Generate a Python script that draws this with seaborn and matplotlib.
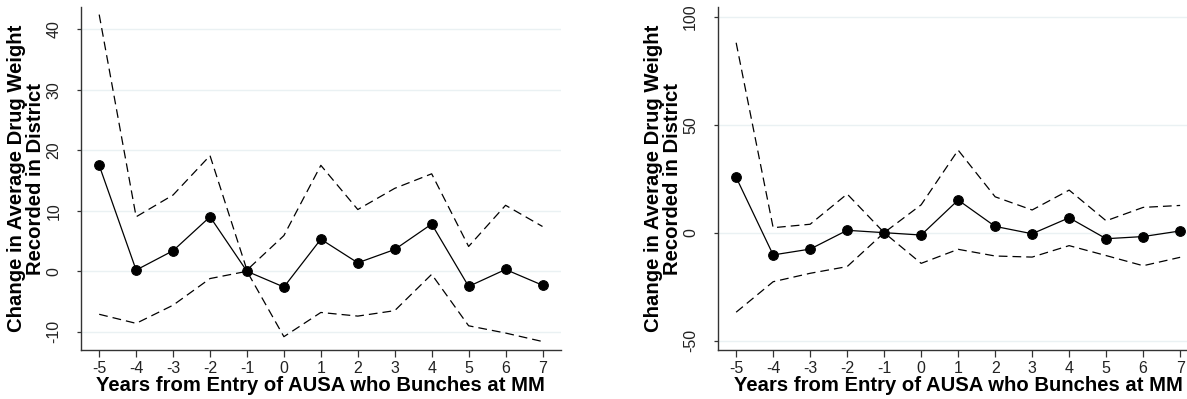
import matplotlib
matplotlib.use("Agg")
import matplotlib.pyplot as plt
import seaborn as sns
import pandas as pd

years = [-5, -4, -3, -2, -1, 0, 1, 2, 3, 4, 5, 6, 7]

# Panel A: point estimates and 95% confidence bounds
est_a = [17.5, 0.2, 3.4, 9.0, 0.0, -2.6, 5.3, 1.4, 3.6, 7.8, -2.5, 0.3, -2.3]
upper_a = [42.4, 9.0, 12.6, 19.1, 0.2, 5.9, 17.5, 10.2, 13.7, 16.1, 4.1, 10.9, 7.4]
lower_a = [-7.1, -8.6, -5.6, -1.2, 0.0, -10.8, -6.8, -7.4, -6.5, -0.5, -9.0, -10.2, -11.6]
yticks_a = [-10, 0, 10, 20, 30, 40]

# Panel B: point estimates and 95% confidence bounds
est_b = [25.6, -10.3, -7.6, 1.1, 0.0, -1.1, 15.1, 2.9, -0.5, 6.9, -2.8, -1.8, 0.8]
upper_b = [87.9, 2.3, 3.9, 17.9, 0.0, 12.9, 38.2, 16.6, 10.5, 19.7, 5.5, 11.7, 12.6]
lower_b = [-36.8, -22.7, -18.8, -15.7, 0.0, -14.2, -7.7, -10.8, -11.3, -6.0, -10.6, -15.3, -11.4]
yticks_b = [-50, 0, 50, 100]

xlabel = "Years from Entry of AUSA who Bunches at MM"
ylabel = "Change in Average Drug Weight\nRecorded in District"

sns.set_theme(style="white")
plt.rcParams["font.family"] = ["Liberation Sans", "DejaVu Sans"]
plt.rcParams["text.color"] = "black"
plt.rcParams["axes.labelcolor"] = "black"
plt.rcParams["xtick.color"] = "#222222"
plt.rcParams["ytick.color"] = "#222222"

fig = plt.figure(figsize=(11.87, 3.99), dpi=100)
ax_a = fig.add_axes([0.068, 0.1228, 0.4046, 0.8589])
ax_b = fig.add_axes([0.6046, 0.1228, 0.4052, 0.8589])

grid_color = "#eaf1f3"
axis_color = "#333333"


def draw_panel(ax, est, upper, lower, yticks, ylim):
    df = pd.DataFrame({"year": years, "est": est, "upper": upper, "lower": lower})
    for ty in yticks:
        ax.axhline(ty, color=grid_color, lw=1.0, zorder=0)
    for col in ("upper", "lower"):
        sns.lineplot(data=df, x="year", y=col, ax=ax, color="black", lw=0.9,
                     dashes=False, linestyle=(0, (7, 4)), zorder=2)
    sns.lineplot(data=df, x="year", y="est", ax=ax, color="black", lw=0.9,
                 marker="o", markersize=7, markeredgecolor="black",
                 markerfacecolor="black", zorder=3)
    ax.set_xlim(-5.5, 7.5)
    ax.set_ylim(*ylim)
    ax.set_xticks(years)
    ax.set_xticklabels([str(v) for v in years])
    ax.set_yticks(yticks)
    ax.set_yticklabels([str(v) for v in yticks], rotation=90, va="center")
    ax.tick_params(axis="x", length=5, width=0.9, pad=3, labelsize=11.5,
                   color=axis_color, bottom=True)
    ax.tick_params(axis="y", length=3, width=0.9, pad=11, labelsize=11.5,
                   color=axis_color, left=True)
    for side in ("top", "right"):
        ax.spines[side].set_visible(False)
    for side in ("left", "bottom"):
        ax.spines[side].set_color(axis_color)
        ax.spines[side].set_linewidth(1.0)
    ax.set_xlabel(xlabel, fontsize=14.6, fontweight="bold", labelpad=0)
    ax.set_ylabel(ylabel, fontsize=14.6, fontweight="bold", labelpad=1,
                  linespacing=1.0)
    ax.grid(False)


draw_panel(ax_a, est_a, upper_a, lower_a, yticks_a, (-13.0, 43.6))
draw_panel(ax_b, est_b, upper_b, lower_b, yticks_b, (-54.3, 104.3))

fig.savefig("out.png", dpi=100, facecolor="white")
